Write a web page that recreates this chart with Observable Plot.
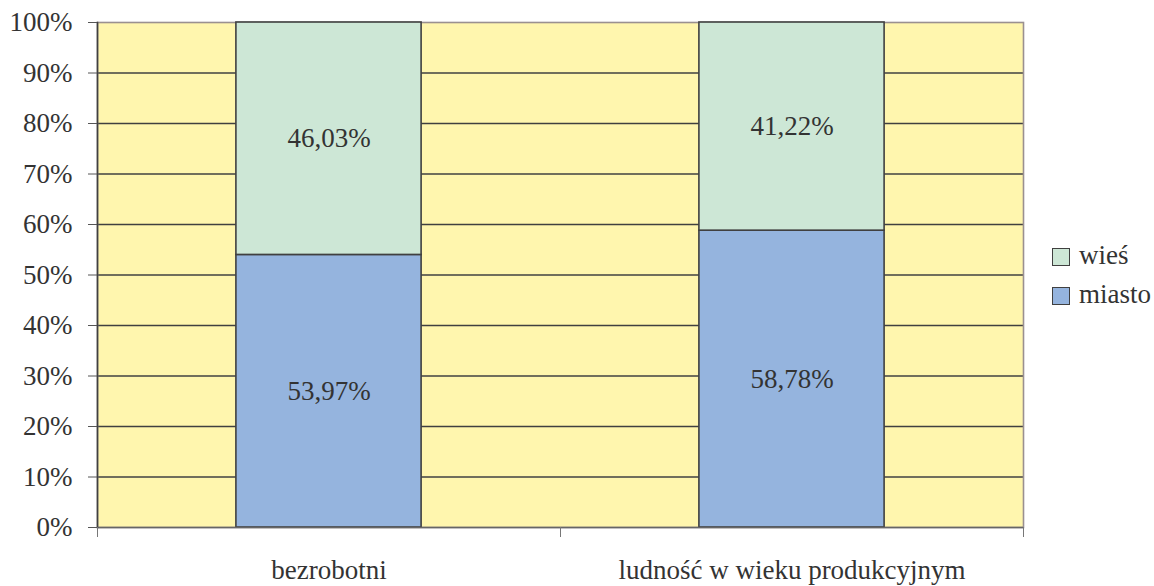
<!DOCTYPE html>
<html>
<head>
<meta charset="utf-8">
<script src="https://cdn.jsdelivr.net/npm/d3@7"></script>
<script src="https://cdn.jsdelivr.net/npm/@observablehq/plot@0.6"></script>
<style>
  body { margin: 0; background: #fff; }
  #wrap, #wrap * { font-family: 'Liberation Serif' !important; }
  #wrap { position: relative; width: 1154px; height: 586px; }
  .leg { position: absolute; left: 1052px; font-size: 27px; color: #333; line-height: 1; }
  .leg span.sw { position: absolute; left: 0; width: 18px; height: 18px; border: 1px solid #404040; box-sizing: border-box; }
  .leg span.lb { position: absolute; left: 27px; white-space: nowrap; }
</style>
</head>
<body>
<div id="wrap"></div>
<script>
const categories = ["bezrobotni", "ludność w wieku produkcyjnym"];
const series = ["miasto", "wieś"];
const miasto = [53.97, 58.78];
const wies = [46.03, 41.22];
const yTicks = [0, 10, 20, 30, 40, 50, 60, 70, 80, 90, 100];
const colors = ["#95B4DE", "#CDE7D6"];

const data = [];
categories.forEach((c, i) => {
  data.push({cat: c, series: "miasto", value: miasto[i]});
  data.push({cat: c, series: "wieś", value: wies[i]});
});

const W = 1154, H = 586;
const mL = 97, mR = 131, mT = 22, mB = 59;
const band = (W - mL - mR) / categories.length;
const inset = band * 0.3;
const fmt = v => v.toFixed(2).replace(".", ",") + "%";

const chart = Plot.plot({
  width: W, height: H,
  marginLeft: mL, marginRight: mR, marginTop: mT, marginBottom: mB,
  style: {fontFamily: "'Liberation Serif'", fontSize: "27px", color: "#333", background: "transparent", overflow: "visible"},
  x: {type: "band", domain: categories, padding: 0, axis: null, label: null},
  y: {domain: [0, 100], axis: null, label: null},
  color: {domain: series, range: colors},
  marks: [
    Plot.frame({fill: "#FFF6AE"}),
    Plot.ruleY(yTicks.filter(t => t > 0 && t < 100), {stroke: "#404040", strokeWidth: 1.3}),
    Plot.frame({stroke: "#9a9090", strokeWidth: 1.6}),
    Plot.barY(data, Plot.stackY({
      x: "cat", y: "value", fill: "series", z: "series", order: series,
      insetLeft: inset, insetRight: inset,
      stroke: "#404040", strokeWidth: 1.6
    })),
    Plot.text(data, Plot.stackY({
      x: "cat", y: "value", z: "series", order: series, text: d => fmt(d.value),
      fill: "#333", fontSize: 27
    })),
    Plot.ruleY([0], {stroke: "#666", strokeWidth: 1.6}),
    Plot.frame({anchor: "left", stroke: "#404040", strokeWidth: 1.6}),
    Plot.axisY({ticks: yTicks, tickFormat: d => d + "%", tickSize: 9, tickPadding: 16, stroke: "#555", fill: "#333", fontSize: 27, label: null}),
    Plot.axisX({tickSize: 10, tickFormat: () => "", dx: -band / 2, stroke: "#777", label: null}),
    Plot.axisX({tickSize: 10, tickFormat: () => "", dx: band / 2, stroke: "#777", label: null}),
    Plot.axisX({tickSize: 0, tickPadding: 32, fill: "#333", fontSize: 27, label: null})
  ]
});

const wrap = document.getElementById("wrap");
wrap.appendChild(chart);

// legend (top series first)
const legendItems = [
  {label: "wieś", color: colors[1], top: 248},
  {label: "miasto", color: colors[0], top: 287}
];
legendItems.forEach(it => {
  const d = document.createElement("div");
  d.className = "leg";
  d.style.top = it.top + "px";
  d.innerHTML = `<span class="sw" style="background:${it.color}"></span><span class="lb" style="top:-6px">${it.label}</span>`;
  wrap.appendChild(d);
});
</script>
</body>
</html>
